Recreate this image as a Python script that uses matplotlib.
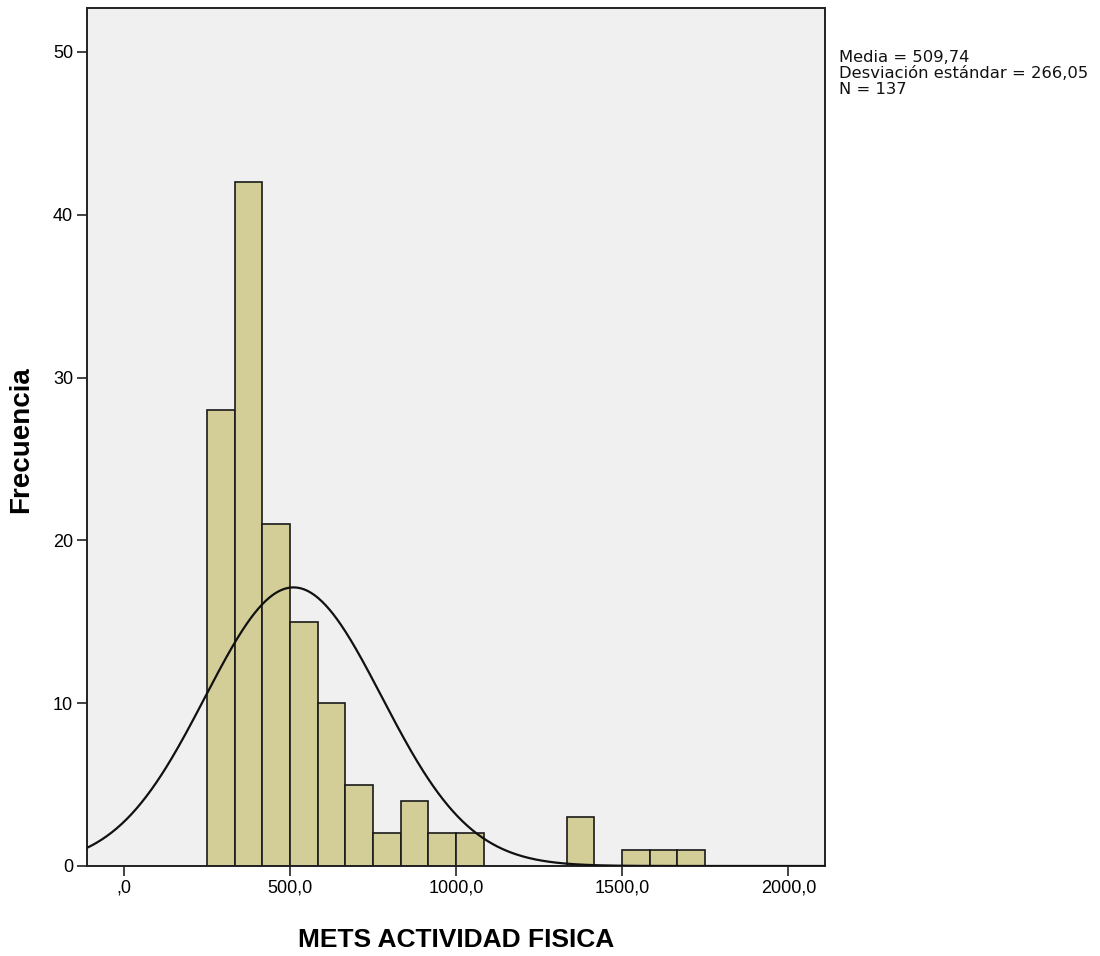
import numpy as np
import matplotlib
matplotlib.use("Agg")
import matplotlib.pyplot as plt

# Data
bin_start = 249.4
bin_width = 83.3
counts = [28, 42, 21, 15, 10, 5, 2, 4, 2, 2, 0, 0, 0, 3, 0, 1, 1, 1]
mean = 509.74
sd = 266.05
n = 137
x_ticks = [0, 500, 1000, 1500, 2000]
x_tick_labels = [",0", "500,0", "1000,0", "1500,0", "2000,0"]
y_ticks = [0, 10, 20, 30, 40, 50]
stats_lines = ["Media = 509,74", "Desviación estándar = 266,05", "N = 137"]

regular = ['Liberation Sans', 'DejaVu Sans']

fig = plt.figure(figsize=(11.0, 9.56), dpi=100)
fig.patch.set_facecolor('white')
ax = fig.add_axes([87/1100, 1-866/956, (825-87)/1100, (866-8)/956])
ax.set_facecolor('#F0F0F0')

edges = bin_start + bin_width * np.arange(len(counts) + 1)
ax.bar(edges[:-1], counts, width=bin_width, align='edge', color='#D3CE97',
       edgecolor='#1a1a1a', linewidth=1.2, zorder=2)

xs = np.linspace(-112, 2110, 600)
ys = n * bin_width * np.exp(-0.5 * ((xs - mean) / sd) ** 2) / (sd * np.sqrt(2 * np.pi))
ax.plot(xs, ys, color='#111111', linewidth=1.6, zorder=3)

ax.set_xlim(-112, 2110)
ax.set_ylim(0, 52.7)
ax.set_xticks(x_ticks)
ax.set_xticklabels(x_tick_labels, fontfamily=regular, fontsize=13)
ax.set_yticks(y_ticks)
ax.set_yticklabels([str(v) for v in y_ticks], fontfamily=regular, fontsize=13)
ax.tick_params(axis='both', direction='out', length=7, width=1.2, color='#222222', pad=3)

for s in ax.spines.values():
    s.set_linewidth(1.4)
    s.set_color('#222222')

ax.set_xlabel("METS ACTIVIDAD FISICA", fontfamily=regular, fontweight='bold', fontsize=19)
ax.xaxis.set_label_coords(0.5, -0.072)
ax.set_ylabel("Frecuencia", fontfamily=regular, fontweight='bold', fontsize=20)
ax.yaxis.set_label_coords(-0.072, 0.497)

fig.text(839/1100, 1-50/956, "\n".join(stats_lines), fontfamily=['DejaVu Sans'],
         fontsize=11.8, va='top', ha='left', linespacing=1.08, color='#111111')

fig.savefig("out.png", dpi=100)
